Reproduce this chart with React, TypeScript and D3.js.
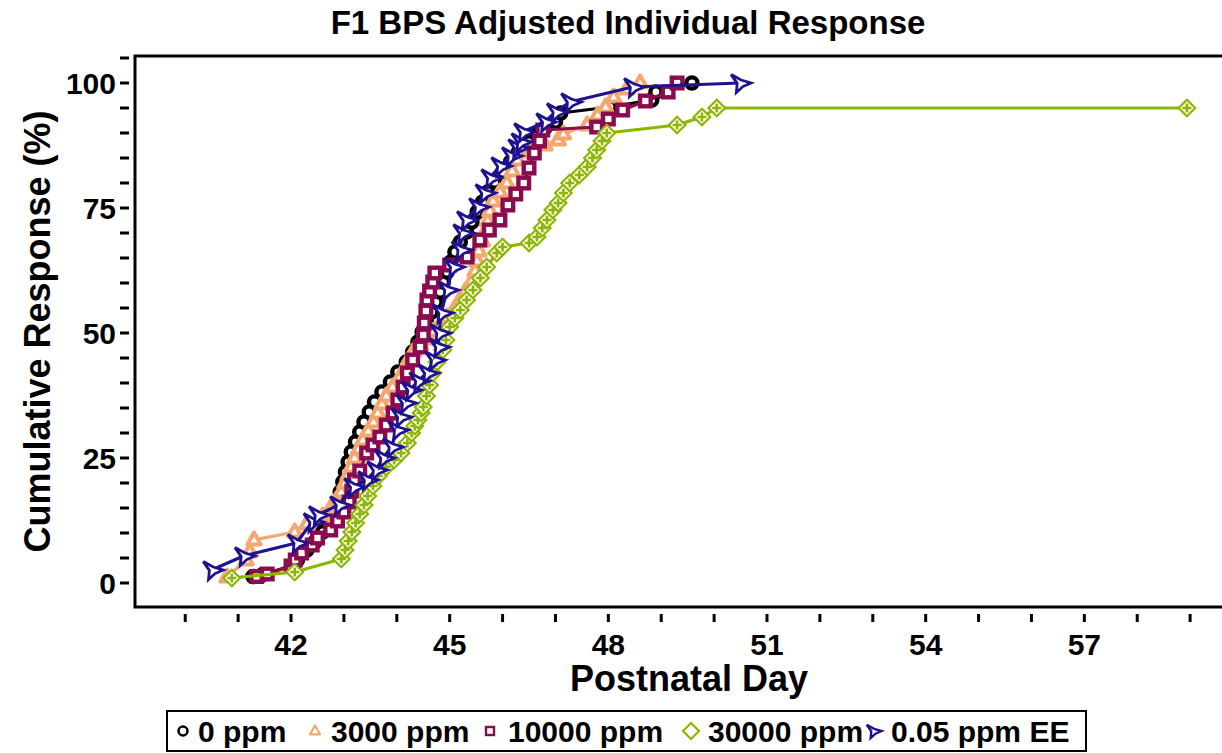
import React from 'react';
import * as d3 from 'd3';

// tick values
const xMajorTicks = [42, 45, 48, 51, 54, 57];
const xMinorTicks = [40, 41, 42, 43, 44, 45, 46, 47, 48, 49, 50, 51, 52, 53, 54, 55, 56, 57, 58, 59];
const yMajorTicks = [0, 25, 50, 75, 100];
const yMinorTicks = [0, 5, 10, 15, 20, 25, 30, 35, 40, 45, 50, 55, 60, 65, 70, 75, 80, 85, 90, 95, 100, 105];

// [postnatal day, cumulative %]
const ppm0: [number, number][] = [
    [41.28, 1.3], [41.45, 1.6], [42.05, 3.6], [42.12, 4.6], [42.3, 6.6], [42.45, 8.2], [42.6, 10.2], [42.72, 12.2],
    [42.8, 14.2], [42.87, 16.2], [42.93, 18.2], [42.98, 20.2], [43.03, 22.2], [43.08, 24.2], [43.14, 26.2], [43.22, 28.2],
    [43.3, 30.2], [43.38, 32.2], [43.48, 34.2], [43.58, 36.2], [43.72, 38.2], [43.88, 40.2], [44.02, 42.2], [44.18, 44.2],
    [44.3, 46.2], [44.4, 48.2], [44.48, 50.2], [44.56, 52.2], [44.66, 54.2], [44.74, 56.2], [44.82, 58.2], [44.88, 60.2],
    [44.95, 62.2], [45.02, 64.2], [45.1, 66.2], [45.2, 68.2], [45.32, 70.2], [45.42, 72.2], [45.52, 74.2], [45.62, 76.2],
    [45.72, 78.2], [45.85, 80.2], [46.0, 82.2], [46.15, 84.2], [46.3, 86.2], [46.5, 88.2], [46.65, 89.6], [46.8, 91],
    [47.0, 92.2], [47.1, 94], [48.03, 95.2], [48.82, 96.6], [48.9, 98.2], [49.58, 100]
];
const ppm3000: [number, number][] = [
    [40.79, 1.2], [41.15, 4.6], [41.22, 6.2], [41.3, 8.6], [42.07, 10.2], [42.3, 11.8], [42.6, 13.4], [42.75, 15],
    [42.86, 16.6], [42.95, 18.2], [43.02, 20], [43.08, 21.6], [43.14, 23.2], [43.2, 25], [43.28, 26.8], [43.36, 28.6],
    [43.46, 30.4], [43.56, 32.2], [43.64, 34], [43.72, 35.8], [43.8, 37.4], [43.92, 39.2], [44.05, 41], [44.14, 42.8],
    [44.22, 44.6], [44.32, 46.4], [44.45, 47.6], [44.6, 48.8], [44.7, 50.4], [44.82, 51.8], [44.95, 53.2], [45.1, 55],
    [45.2, 56.8], [45.3, 58.4], [45.42, 60.4], [45.48, 62.4], [45.52, 64.4], [45.55, 66.4], [45.62, 68.4], [45.68, 70.4],
    [45.72, 72.4], [45.76, 74.4], [45.82, 76.4], [45.95, 78.2], [46.08, 80], [46.18, 82.4], [46.28, 84.6], [46.5, 86.2],
    [46.8, 87.6], [47.05, 88.6], [47.15, 89.8], [47.6, 91.6], [47.8, 93.6], [47.95, 95.2], [48.1, 97.2], [48.35, 98.8],
    [48.6, 100]
];
const ppm10000: [number, number][] = [
    [41.35, 1.3], [41.55, 1.8], [42.0, 3.4], [42.08, 4.6], [42.2, 6], [42.4, 7.6], [42.5, 9], [42.75, 10.6],
    [42.88, 12.4], [43.0, 14.2], [43.1, 16.2], [43.15, 18.4], [43.2, 20.6], [43.3, 22.4], [43.43, 26], [43.55, 27.6],
    [43.68, 29.2], [43.8, 31.6], [43.93, 34], [44.02, 36.6], [44.12, 39.2], [44.2, 42], [44.3, 44.6], [44.44, 47.2],
    [44.5, 49.6], [44.52, 52], [44.55, 54.4], [44.57, 56.6], [44.62, 58.4], [44.68, 60.2], [44.72, 62], [45.0, 63.6],
    [45.33, 65.2], [45.57, 68.6], [45.75, 70.6], [45.95, 72.6], [46.1, 75.6], [46.25, 77.8], [46.4, 80], [46.5, 83],
    [46.6, 86], [46.7, 88.4], [46.76, 90.6], [47.78, 91.2], [48.0, 92.8], [48.27, 94.6], [48.7, 96.4], [49.13, 98.2],
    [49.3, 100]
];
const ppm30000: [number, number][] = [
    [40.88, 1], [42.07, 2.2], [42.95, 4.8], [43.02, 6.6], [43.08, 8.4], [43.15, 10.2], [43.22, 12], [43.3, 13.8],
    [43.38, 15.6], [43.45, 17.4], [43.55, 19.4], [43.65, 21.4], [43.8, 23.2], [43.95, 24.6], [44.08, 26], [44.2, 28],
    [44.28, 30], [44.34, 31.4], [44.4, 32.6], [44.46, 34], [44.5, 35.2], [44.56, 37.4], [44.62, 39.6], [44.68, 42],
    [44.76, 44.2], [44.87, 46.6], [44.93, 48.6], [45.0, 51.2], [45.1, 53], [45.2, 54.6], [45.32, 56.6], [45.44, 58.6],
    [45.58, 61], [45.7, 63.2], [45.89, 66], [46.0, 67.2], [46.5, 68], [46.65, 69.2], [46.75, 71], [46.84, 72.6],
    [46.95, 74.6], [47.05, 76], [47.15, 78], [47.27, 80], [47.45, 81.6], [47.6, 83.2], [47.7, 85], [47.78, 86.6],
    [47.88, 88.4], [47.97, 90], [49.3, 91.6], [49.77, 93.2], [50.05, 95], [58.94, 95]
];
const ppmEE: [number, number][] = [
    [40.5, 2.6], [41.1, 5.4], [42.1, 8], [42.4, 12.2], [42.5, 13.6], [42.9, 15.6], [43.17, 19.2], [43.43, 20.6],
    [43.6, 22.6], [43.74, 25], [43.9, 27.2], [44.0, 30.6], [44.06, 33.2], [44.15, 36], [44.25, 38.6], [44.4, 40.4],
    [44.57, 42], [44.7, 44.6], [44.78, 47.2], [44.8, 50], [44.84, 54], [44.95, 58.6], [45.06, 63.2], [45.2, 66.6],
    [45.23, 70], [45.3, 72.6], [45.53, 75.2], [45.65, 78], [45.76, 81], [45.95, 83.4], [46.15, 85.4], [46.27, 87],
    [46.33, 88.2], [46.38, 90.2], [46.8, 92.2], [47.0, 94.2], [47.27, 96.2], [48.46, 99.2], [50.48, 100]
];

const groupNames = ['0 ppm', '3000 ppm', '10000 ppm', '30000 ppm', '0.05 ppm EE'];
const groupColors = ['#000000', '#F4A870', '#8C0A4E', '#8DB600', '#1E1290'];
const groupData = [ppm0, ppm3000, ppm10000, ppm30000, ppmEE];

const W = 1222;
const H = 753;
const left = 135, top = 56, bottom = 607, right = 1243;
const font = '"Liberation Sans", Arial, Helvetica, sans-serif';

const x = d3.scaleLinear().domain([39.05, 60]).range([left, right]);
const y = d3.scaleLinear().domain([-4.8, 105.4]).range([bottom, top]);

const arrowPath = (s: number) => {
    const p = [[-8, -8], [1.5, -2.8], [11, 0], [3.2, 3.4], [-3, 9], [-2.2, 0.4]];
    return 'M' + p.map(([a, b]) => `${a * s},${b * s}`).join('L') + 'Z';
};

const Marker: React.FC<{ kind: number; cx: number; cy: number; color: string; legend?: boolean }> = ({ kind, cx, cy, color, legend }) => {
    switch (kind) {
        case 0:
            return <circle cx={cx} cy={cy} r={legend ? 4.5 : 5.6} fill="#fff" stroke={color} strokeWidth={legend ? 2.5 : 4.4} />;
        case 1: {
            const r = legend ? 5.5 : 7.5;
            return <path transform={`translate(${cx},${cy})`} d={`M0,${-r}L${r * 0.9},${r * 0.6}L${-r * 0.9},${r * 0.6}Z`} fill="#fff" stroke={color} strokeWidth={legend ? 2.2 : 4} strokeLinejoin="round" />;
        }
        case 2: {
            const h = legend ? 4 : 5.3;
            return <rect x={cx - h} y={cy - h} width={h * 2} height={h * 2} fill="#fff" stroke={color} strokeWidth={legend ? 2.4 : 4.4} />;
        }
        case 3: {
            const h = legend ? 8 : 8.3;
            return (
                <g transform={`translate(${cx},${cy})`} stroke={color} strokeWidth={2.2}>
                    <path d={`M0,${-h}L${h},0L0,${h}L${-h},0Z`} fill="#fff" />
                    {!legend && <path d={`M0,${-h * 0.55}V${h * 0.55}M${-h * 0.55},0H${h * 0.55}`} strokeWidth={2.6} />}
                </g>
            );
        }
        default:
            return <path transform={`translate(${cx},${cy})`} d={arrowPath(legend ? 0.78 : 1.05)} fill="#fff" stroke={color} strokeWidth={legend ? 2.4 : 2.8} strokeLinejoin="miter" />;
    }
};

const line = d3.line<[number, number]>().x(d => x(d[0])).y(d => y(d[1]));

const legendItems = [
    { mx: 183, tx: 198 },
    { mx: 315, tx: 331 },
    { mx: 490, tx: 508 },
    { mx: 691, tx: 708 },
    { mx: 873, tx: 891 }
];

export default function App() {
    return (
        <svg width={W} height={H} style={{ position: 'absolute', left: 0, top: 0, background: '#fff' }} fontFamily={font} fontWeight="bold">
            <text x={628} y={34} textAnchor="middle" fontSize={33}>F1 BPS Adjusted Individual Response</text>

            {/* frame */}
            <path d={`M${right},${top}H${left}V${bottom}H${right}`} fill="none" stroke="#000" strokeWidth={3} />

            {/* y axis */}
            {yMinorTicks.map(t => (
                <line key={'ym' + t} x1={120} x2={129} y1={y(t)} y2={y(t)} stroke="#000" strokeWidth={3} />
            ))}
            {yMajorTicks.map(t => (
                <text key={'yl' + t} x={116} y={y(t) + 11} textAnchor="end" fontSize={30}>{t}</text>
            ))}
            <text transform={`translate(50,${(top + bottom) / 2}) rotate(-90)`} textAnchor="middle" fontSize={36}>Cumulative Response (%)</text>

            {/* x axis */}
            {xMinorTicks.map(t => (
                <line key={'xm' + t} x1={x(t)} x2={x(t)} y1={614} y2={622} stroke="#000" strokeWidth={3} />
            ))}
            {xMajorTicks.map(t => (
                <text key={'xl' + t} x={x(t)} y={655} textAnchor="middle" fontSize={30}>{t}</text>
            ))}
            <text x={(left + right) / 2} y={691} textAnchor="middle" fontSize={36}>Postnatal Day</text>

            {/* series */}
            {groupData.map((data, gi) => (
                <g key={groupNames[gi]}>
                    <path d={line(data) || ''} fill="none" stroke={groupColors[gi]} strokeWidth={3.2} strokeLinejoin="round" />
                    {data.map((d, i) => (
                        <Marker key={i} kind={gi} cx={x(d[0])} cy={y(d[1])} color={groupColors[gi]} />
                    ))}
                </g>
            ))}

            {/* legend */}
            <rect x={167} y={711} width={919} height={40} fill="none" stroke="#000" strokeWidth={2} />
            {legendItems.map((it, gi) => (
                <g key={'lg' + gi}>
                    <Marker kind={gi} cx={it.mx} cy={731} color={groupColors[gi]} legend />
                    <text x={it.tx} y={742} fontSize={30}>{groupNames[gi]}</text>
                </g>
            ))}
        </svg>
    );
}
